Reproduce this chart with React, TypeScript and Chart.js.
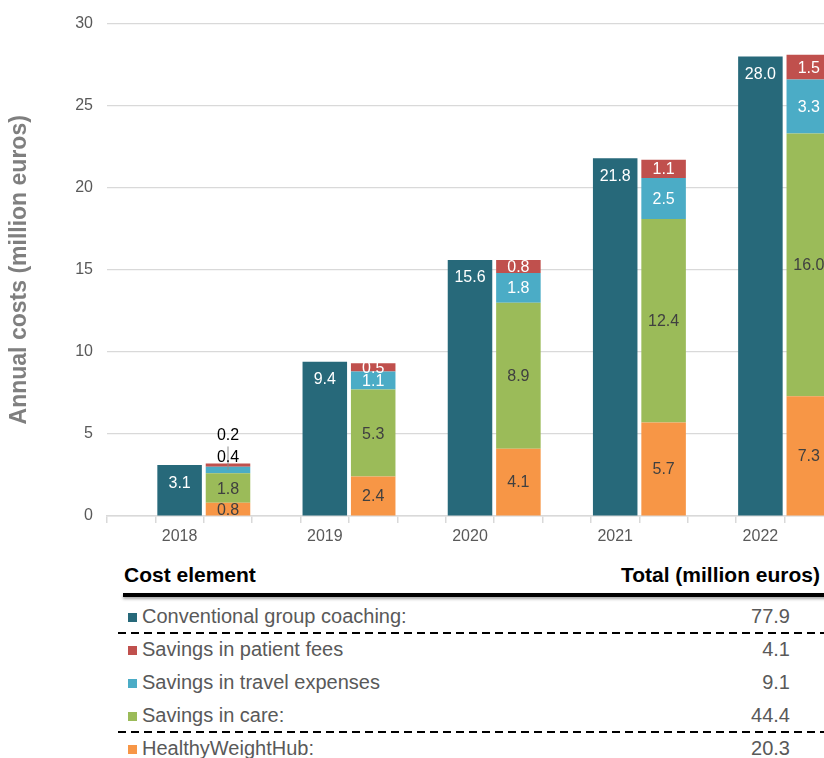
import React, { useEffect, useRef } from "react";
import { Chart, registerables } from "chart.js";

Chart.register(...registerables);

const years = ["2018", "2019", "2020", "2021", "2022"];
const conventional = [3.1, 9.4, 15.6, 21.8, 28.0];
const healthyWeightHub = [0.8, 2.4, 4.1, 5.7, 7.3];
const savingsCare = [1.8, 5.3, 8.9, 12.4, 16.0];
const savingsTravel = [0.4, 1.1, 1.8, 2.5, 3.3];
const savingsFees = [0.2, 0.5, 0.8, 1.1, 1.5];
const yMin = 0;
const yMax = 30;
const yStep = 5;

const legendNames = [
  "Conventional group coaching:",
  "Savings in patient fees",
  "Savings in travel expenses",
  "Savings in care:",
  "HealthyWeightHub:",
];

const COL_TEAL = "#27697a";
const COL_RED = "#c0504d";
const COL_CYAN = "#4bacc6";
const COL_GREEN = "#9bbb59";
const COL_ORANGE = "#f79646";
const FONT = '"Liberation Sans", Arial, Helvetica, sans-serif';

// three slots per year: empty, conventional, HealthyWeightHub stack
const slotLabels: string[] = [];
years.forEach((y) => slotLabels.push("", y, ""));
const convSlot = (arr: number[]) => {
  const out: (number | null)[] = [];
  arr.forEach((v) => out.push(null, v, null));
  return out;
};
const hwhSlot = (arr: number[]) => {
  const out: (number | null)[] = [];
  arr.forEach((v) => out.push(null, null, v));
  return out;
};

const sum = (a: number[]) => a.reduce((s, v) => s + v, 0);
const legendRows = [
  { name: legendNames[0], color: COL_TEAL, total: sum(conventional), dashAfter: true },
  { name: legendNames[1], color: COL_RED, total: sum(savingsFees), dashAfter: false },
  { name: legendNames[2], color: COL_CYAN, total: sum(savingsTravel), dashAfter: false },
  { name: legendNames[3], color: COL_GREEN, total: sum(savingsCare), dashAfter: true },
  { name: legendNames[4], color: COL_ORANGE, total: sum(healthyWeightHub), dashAfter: false },
];

const SMALL_VALUE = 0.45;

const labelPlugin = {
  id: "barLabels",
  afterDatasetsDraw(chart: any) {
    const ctx = chart.ctx;
    ctx.save();
    ctx.font = `16px ${FONT}`;
    ctx.textAlign = "center";
    ctx.textBaseline = "middle";
    const outsideCount: Record<number, number> = {};
    const stackTop: Record<number, number> = {};
    chart.data.datasets.forEach((ds: any, di: number) => {
      const meta = chart.getDatasetMeta(di);
      meta.data.forEach((bar: any, i: number) => {
        if (ds.data[i] == null) return;
        const y = bar.y;
        stackTop[i] = stackTop[i] === undefined ? y : Math.min(stackTop[i], y);
      });
    });
    chart.data.datasets.forEach((ds: any, di: number) => {
      const meta = chart.getDatasetMeta(di);
      meta.data.forEach((bar: any, i: number) => {
        const v = ds.data[i];
        if (v == null) return;
        const text = v.toFixed(1);
        const x = bar.x;
        if (ds.labelMode === "end") {
          ctx.fillStyle = ds.labelColor;
          ctx.fillText(text, x, bar.y + 18);
        } else if (v < SMALL_VALUE) {
          const n = outsideCount[i] || 0;
          outsideCount[i] = n + 1;
          const top = stackTop[i];
          const ly = top - 6 - n * 22;
          if (n === 0) {
            ctx.strokeStyle = "#8c8c8c";
            ctx.lineWidth = 1;
            ctx.beginPath();
            ctx.moveTo(x, (bar.y + bar.base) / 2);
            ctx.lineTo(x, ly - 11);
            ctx.stroke();
          }
          ctx.fillStyle = "#000000";
          ctx.fillText(text, x, ly);
        } else {
          ctx.fillStyle = ds.labelColor;
          ctx.fillText(text, x, (bar.y + bar.base) / 2 + 1);
        }
      });
    });
    ctx.restore();
  },
};

export default function App() {
  const canvasRef = useRef<HTMLCanvasElement | null>(null);

  useEffect(() => {
    if (!canvasRef.current) return;
    const chart = new Chart(canvasRef.current, {
      type: "bar",
      data: {
        labels: slotLabels,
        datasets: [
          { label: legendNames[0], data: convSlot(conventional), backgroundColor: COL_TEAL, labelColor: "#ffffff", labelMode: "end" } as any,
          { label: legendNames[4], data: hwhSlot(healthyWeightHub), backgroundColor: COL_ORANGE, labelColor: "#404040" } as any,
          { label: legendNames[3], data: hwhSlot(savingsCare), backgroundColor: COL_GREEN, labelColor: "#404040" } as any,
          { label: legendNames[2], data: hwhSlot(savingsTravel), backgroundColor: COL_CYAN, labelColor: "#ffffff" } as any,
          { label: legendNames[1], data: hwhSlot(savingsFees), backgroundColor: COL_RED, labelColor: "#ffffff" } as any,
        ],
      },
      options: {
        animation: false,
        responsive: true,
        maintainAspectRatio: false,
        layout: { padding: { top: 23, right: 7, left: 0, bottom: 0 } },
        datasets: { bar: { categoryPercentage: 0.92, barPercentage: 1, skipNull: false } },
        plugins: { legend: { display: false }, tooltip: { enabled: false }, title: { display: false } },
        scales: {
          x: {
            stacked: true,
            offset: true,
            afterFit: (s: any) => { s.height = 40; },
            grid: { display: true, drawOnChartArea: false, drawTicks: true, tickLength: 7, color: "#d9d9d9", lineWidth: 1.5, offset: true },
            border: { display: true, color: "#d9d9d9", width: 1.5 },
            ticks: { autoSkip: false, maxRotation: 0, minRotation: 0, padding: 4, color: "#595959", font: { family: FONT, size: 16 } },
          },
          y: {
            stacked: true,
            min: yMin,
            max: yMax,
            afterFit: (s: any) => { s.width = 107; },
            grid: { color: "#d9d9d9", lineWidth: 1.2, drawTicks: false },
            border: { display: false },
            ticks: { stepSize: yStep, padding: 14, color: "#595959", font: { family: FONT, size: 16 } },
            title: { display: true, text: "Annual costs (million euros)", color: "#7f7f7f", padding: { top: 6, bottom: 0 }, font: { family: FONT, size: 23, weight: "bold" } },
          },
        },
      } as any,
      plugins: [labelPlugin],
    });
    return () => chart.destroy();
  }, []);

  const rowTop = 604;
  const rowStep = 33;

  return (
    <div style={{ position: "fixed", left: 0, top: 0, width: 824, height: 758, overflow: "hidden", background: "#ffffff", fontFamily: FONT }}>
      <div style={{ position: "absolute", left: 0, top: 0, width: 840, height: 556 }}>
        <canvas ref={canvasRef} />
      </div>
      <div style={{ position: "absolute", left: 124, top: 563, width: 696, height: 24, lineHeight: "24px", fontSize: 21, fontWeight: "bold", color: "#000", display: "flex", justifyContent: "space-between", whiteSpace: "nowrap" }}>
        <span>Cost element</span>
        <span>Total (million euros)</span>
      </div>
      <div style={{ position: "absolute", left: 123, top: 593, width: 720, height: 4, background: "#000", boxShadow: "0 2px 3px rgba(0,0,0,0.35)" }} />
      {legendRows.map((r, i) => (
        <React.Fragment key={r.name}>
          <div style={{ position: "absolute", left: 128, top: rowTop + i * rowStep + 9, width: 9, height: 9, background: r.color }} />
          <div style={{ position: "absolute", left: 142, top: rowTop + i * rowStep, height: 24, lineHeight: "24px", fontSize: 20, color: "#595959", whiteSpace: "nowrap" }}>{r.name}</div>
          <div style={{ position: "absolute", left: 590, width: 200, textAlign: "right", top: rowTop + i * rowStep, height: 24, lineHeight: "24px", fontSize: 20, color: "#595959" }}>{r.total.toFixed(1)}</div>
          {r.dashAfter && (
            <div style={{ position: "absolute", left: 118, top: rowTop + i * rowStep + 28, width: 720, height: 2, background: "repeating-linear-gradient(to right, #000 0 8px, transparent 8px 13px)" }} />
          )}
        </React.Fragment>
      ))}
    </div>
  );
}
